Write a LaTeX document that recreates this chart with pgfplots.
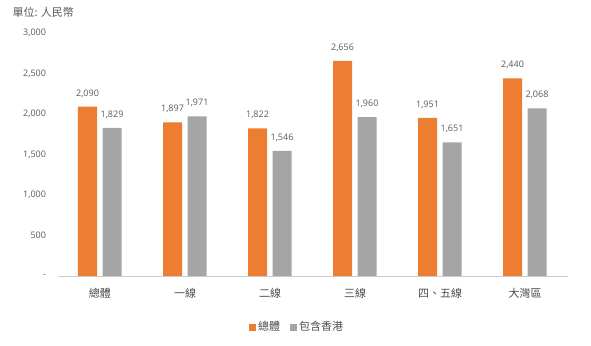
\documentclass[border=0pt]{standalone}
\usepackage{fontspec}
\setmainfont{Open Sans}
\newfontfamily\cjk{Noto Sans CJK TC}
\usepackage{pgfplots}
\pgfplotsset{compat=1.18}
\definecolor{exorange}{HTML}{ED7D31}
\definecolor{exgray}{HTML}{A5A5A5}
\definecolor{txt}{HTML}{595959}
\begin{document}
\begin{tikzpicture}[x=1pt,y=1pt]
\path (0,0) rectangle (591,345);
\begin{axis}[
  at={(57.5pt,69pt)}, anchor=south west,
  scale only axis, width=510pt, height=243pt,
  xmin=-0.5, xmax=5.5, ymin=0, ymax=3000,
  axis line style={draw=none},
  axis x line*=bottom, axis y line*=left,
  xtick={0,1,2,3,4,5},
  xticklabels={總體,一線,二線,三線,四、五線,大灣區},
  xticklabel style={font=\cjk\fontsize{11}{12}\selectfont, text=txt!85!black, yshift=-9pt},
  ytick={0,500,1000,1500,2000,2500,3000},
  yticklabels={{-},{500},{1,000},{1,500},{2,000},{2,500},{3,000}},
  yticklabel style={font=\fontsize{9}{10}\selectfont, text=txt, xshift=-8pt},
  major tick length=0pt,
  /pgf/number format/.cd, 1000 sep={,}, assume math mode=true, /pgfplots/.cd,
  nodes near coords={\pgfmathprintnumber{\pgfplotspointmeta}},
  every node near coord/.append style={font=\fontsize{9}{10}\selectfont, text=txt, yshift=6pt},
  legend style={at={(0.47,-0.21)}, anchor=center, draw=none, legend columns=2,
    font=\cjk\fontsize{11}{12}\selectfont, text=txt!85!black,
    /tikz/every even column/.append style={column sep=8pt}},
  legend image code/.code={\fill[#1] (0pt,-3.5pt) rectangle (7pt,3.5pt);},
  clip=false,
]
\draw[color=black!20, line width=0.8pt] (axis cs:-0.5,0) -- (axis cs:5.5,0);
\addplot[ybar, bar width=19pt, bar shift=-12.5pt, fill=exorange, draw=none,
  every node near coord/.append style={xshift=-12.5pt}]
  coordinates {(0,2090) (1,1897) (2,1822) (3,2656) (4,1951) (5,2440)};
\addlegendentry{總體}
\addplot[ybar, bar width=19pt, bar shift=12pt, fill=exgray, draw=none,
  every node near coord/.append style={xshift=12pt}]
  coordinates {(0,1829) (1,1971) (2,1546) (3,1960) (4,1651) (5,2068)};
\addlegendentry{包含香港}
\end{axis}
\node[anchor=west, font=\cjk\fontsize{11}{12}\selectfont, text=txt] at (9,333) {單位: 人民幣};
\end{tikzpicture}
\end{document}
